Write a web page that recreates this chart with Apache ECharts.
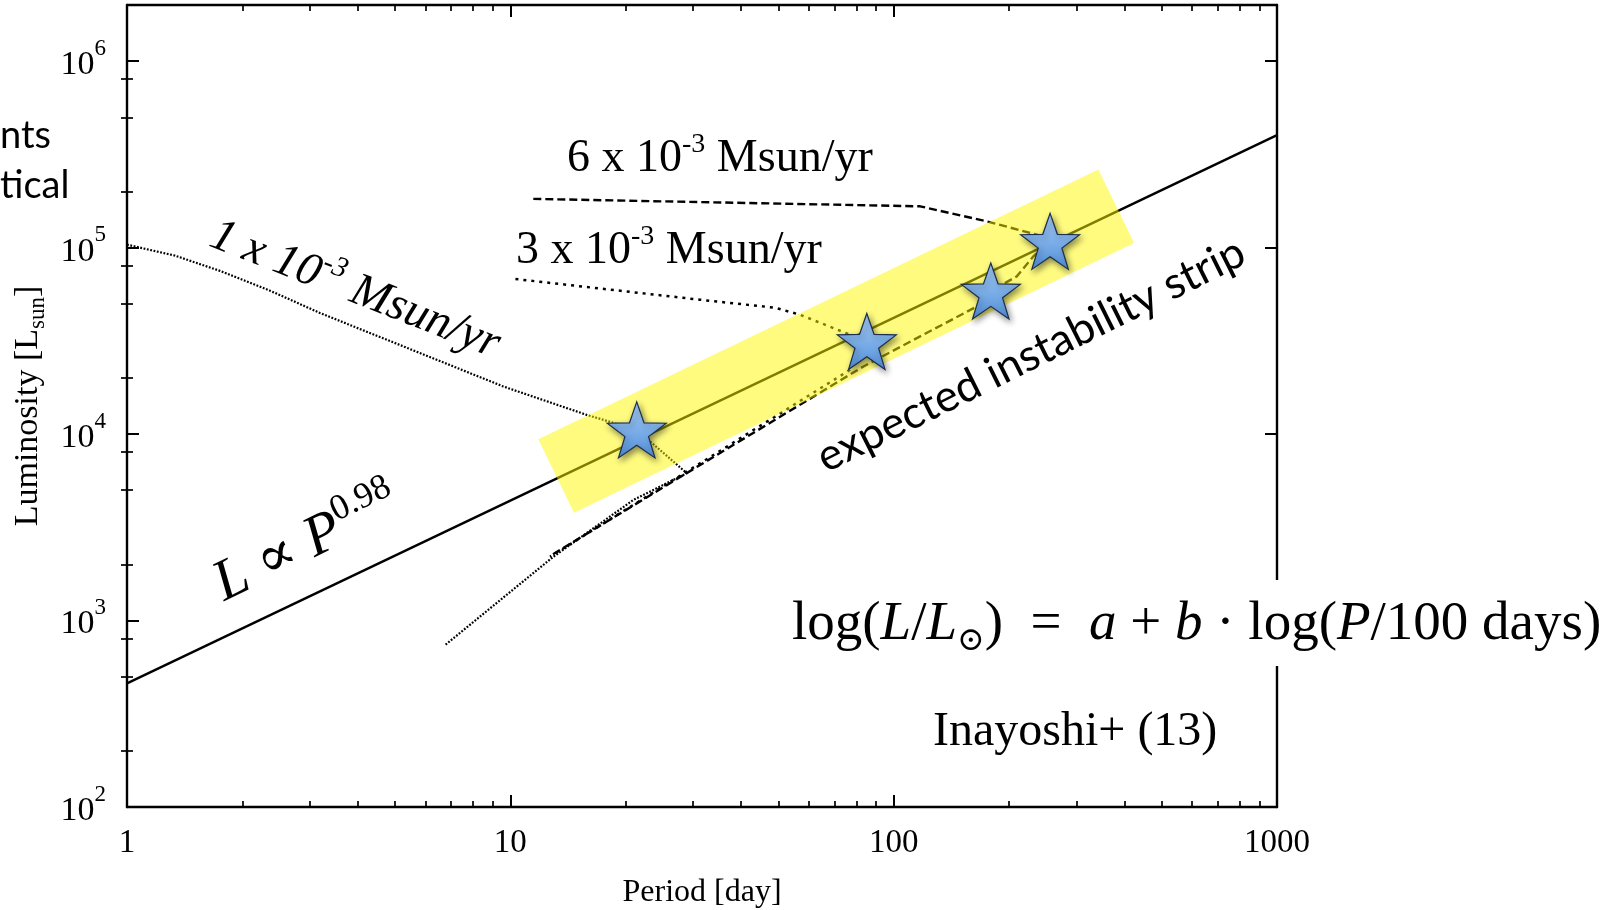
<!DOCTYPE html>
<html>
<head>
<meta charset="utf-8">
<style>
  html, body { margin: 0; padding: 0; background: #ffffff; }
  #chart { width: 1612px; height: 910px; }
</style>
<script src="https://cdn.jsdelivr.net/npm/echarts@6.0.0/dist/echarts.min.js"></script>
</head>
<body>
<div id="chart"></div>
<script>
// ---- data: period P [day] and luminosity L [L_sun] ----

// power-law fit L ∝ P^0.98, given by its two end points
const fitP = [1, 1000];
const fitL = [460, 400700];

// evolutionary track, 1 x 10^-3 Msun/yr
const track1P = [1, 1.334, 1.748, 2.361, 3.187, 5.813, 9.59, 15.82, 21.37, 28.86, 20.94, 12.95, 6.755];
const track1L = [103700, 90530, 75000, 58760, 44600, 27190, 17990, 12680, 10530, 6170, 4433, 2199, 738];

// evolutionary track, 3 x 10^-3 Msun/yr
const track3P = [10.31, 31.26, 49.05, 56.98, 85.1, 76.94, 28.86, 12.69];
const track3L = [67850, 52530, 47600, 43650, 31380, 22110, 6290, 2199];

// evolutionary track, 6 x 10^-3 Msun/yr
const track6P = [11.48, 117.2, 174.9, 236.3, 255.9, 231.0, 209.5, 179.2, 164.8, 83.37, 28.9, 12.69];
const track6L = [182500, 166500, 138300, 117300, 108000, 89400, 70090, 58500, 48370, 23040, 6190, 2218];

// onset of pulsation on each track
const starP = [21.37, 85.1, 179.2, 255.9];
const starL = [10530, 31380, 58500, 108000];

// corners of the expected instability strip
const bandP = [11.83, 342.0, 423.9, 14.66];
const bandL = [9389, 262100, 105900, 3788];

// axis ranges and minor tick values
const xRange = [1, 1000];
const yRange = [100, 2e6];
const xMinorTicks = [2, 3, 4, 5, 6, 7, 8, 9, 20, 30, 40, 50, 60, 70, 80, 90, 200, 300, 400, 500, 600, 700, 800, 900];
const yMinorTicks = [200, 500, 800, 2000, 5000, 8000, 20000, 50000, 80000, 200000, 500000, 800000];

// ---- chart ----
const serif = '"Liberation Serif", "Times New Roman", "DejaVu Serif", serif';
const sans = 'Lato, "Open Sans", sans-serif';
const black = '#000000';
const deg = Math.PI / 180;
const enSp = '\u2002';

const pairs = (xs, ys) => xs.map((x, i) => [x, ys[i]]);

const frameLine = { show: true, onZero: false, lineStyle: { color: black, width: 2.4 } };
const majorTick = { show: true, inside: true, length: 12, lineStyle: { color: black, width: 2 } };
const minorTickStyle = (vals) => ({
  show: true, inside: true, length: 6, customValues: vals,
  lineStyle: { color: black, width: 1.7 }
});

const chart = echarts.init(document.getElementById('chart'), null, { renderer: 'canvas' });

const starPath = 'path://M50,0L61.76,33.82L97.55,34.55L69.02,56.18L79.39,90.45L50,70L20.61,90.45L30.98,56.18L2.45,34.55L38.24,33.82Z';

const trackLine = (xs, ys, width, dash) => ({
  type: 'line',
  xAxisIndex: 0, yAxisIndex: 0,
  data: pairs(xs, ys),
  symbol: 'none',
  silent: true,
  lineStyle: { color: black, width: width, type: dash, cap: 'butt' },
  z: 3
});

chart.setOption({
  animation: false,
  backgroundColor: '#ffffff',
  grid: { left: 127, right: 335, top: 5, bottom: 103, outerBoundsMode: 'none' },
  xAxis: [
    {
      type: 'log', logBase: 10, min: xRange[0], max: xRange[1], position: 'bottom',
      name: 'Period [day]', nameLocation: 'middle', nameGap: 70,
      nameTextStyle: { fontFamily: serif, fontSize: 32, color: black },
      axisLine: frameLine, axisTick: majorTick,
      axisLabel: { margin: 20, fontFamily: serif, fontSize: 33, color: black,
                   formatter: v => String(Math.round(v)) },
      splitLine: { show: false }
    },
    {
      type: 'log', logBase: 10, min: xRange[0], max: xRange[1], position: 'top',
      axisLine: frameLine, axisTick: majorTick, axisLabel: { show: false }, splitLine: { show: false }
    },
    {
      type: 'value', min: Math.log10(xRange[0]), max: Math.log10(xRange[1]), position: 'bottom',
      axisLine: { show: false }, axisTick: minorTickStyle(xMinorTicks.map(Math.log10)),
      axisLabel: { show: false }, splitLine: { show: false }
    },
    {
      type: 'value', min: Math.log10(xRange[0]), max: Math.log10(xRange[1]), position: 'top',
      axisLine: { show: false }, axisTick: minorTickStyle(xMinorTicks.map(Math.log10)),
      axisLabel: { show: false }, splitLine: { show: false }
    }
  ],
  yAxis: [
    {
      type: 'log', logBase: 10, min: yRange[0], max: yRange[1], position: 'left',
      name: '{n|Luminosity [L}{sub|sun}{n|]}', nameLocation: 'middle', nameRotate: 90, nameGap: 76,
      nameTextStyle: {
        rich: {
          n: { fontFamily: serif, fontSize: 34, lineHeight: 44, color: black },
          sub: { fontFamily: serif, fontSize: 23, lineHeight: 23, verticalAlign: 'bottom', color: black }
        }
      },
      axisLine: frameLine, axisTick: majorTick,
      axisLabel: {
        margin: 21, showMaxLabel: false, padding: [8, 0, 0, 0],
        formatter: v => '{b|10}{s|' + Math.round(Math.log10(v)) + '}',
        rich: {
          b: { fontFamily: serif, fontSize: 34, lineHeight: 56, color: black },
          s: { fontFamily: serif, fontSize: 23, lineHeight: 23, verticalAlign: 'top', color: black }
        }
      },
      splitLine: { show: false }
    },
    {
      type: 'log', logBase: 10, min: yRange[0], max: yRange[1], position: 'right',
      axisLine: frameLine, axisTick: majorTick, axisLabel: { show: false }, splitLine: { show: false }
    },
    {
      type: 'value', min: Math.log10(yRange[0]), max: Math.log10(yRange[1]), position: 'left',
      axisLine: { show: false }, axisTick: minorTickStyle(yMinorTicks.map(Math.log10)),
      axisLabel: { show: false }, splitLine: { show: false }
    },
    {
      type: 'value', min: Math.log10(yRange[0]), max: Math.log10(yRange[1]), position: 'right',
      axisLine: { show: false }, axisTick: minorTickStyle(yMinorTicks.map(Math.log10)),
      axisLabel: { show: false }, splitLine: { show: false }
    }
  ],
  series: [
    {
      type: 'line', xAxisIndex: 0, yAxisIndex: 0,
      data: pairs(fitP, fitL), symbol: 'none', silent: true,
      lineStyle: { color: black, width: 2.4 }, z: 3
    },
    trackLine(track1P, track1L, 2.2, [1.8, 1.6]),
    trackLine(track3P, track3L, 2.5, [3, 5]),
    trackLine(track6P, track6L, 2.4, [8, 4]),
    {
      type: 'custom', xAxisIndex: 0, yAxisIndex: 0, silent: true, z: 4,
      data: [[bandP[0], bandL[0]]],
      renderItem: (params, api) => ({
        type: 'polygon',
        shape: { points: bandP.map((p, i) => api.coord([p, bandL[i]])) },
        style: { fill: 'rgba(255, 248, 0, 0.5)' }
      })
    },
    {
      type: 'scatter', xAxisIndex: 0, yAxisIndex: 0, silent: true, z: 6,
      data: pairs(starP, starL),
      symbol: starPath, symbolSize: [59, 56],
      itemStyle: {
        opacity: 1,
        color: { type: 'linear', x: 0, y: 0, x2: 0, y2: 1,
                 colorStops: [{ offset: 0, color: '#a8cef7' }, { offset: 1, color: '#5290da' }] },
        borderColor: '#1c2f4f', borderWidth: 1.2,
        shadowBlur: 6, shadowColor: 'rgba(0,0,0,0.45)', shadowOffsetX: 2, shadowOffsetY: 3
      }
    }
  ],
  graphic: [
    { type: 'text', x: 0, y: 136, z: 60,
      style: { text: 'nts', font: '38px ' + sans, fill: black, align: 'left', verticalAlign: 'middle' } },
    { type: 'text', x: 0, y: 186, z: 60,
      style: { text: 'tical', font: '38px ' + sans, fill: black, align: 'left', verticalAlign: 'middle' } },
    { type: 'text', x: 567, y: 159, z: 60,
      style: {
        text: '{a|6 x 10}{s|-3}{a| Msun/yr}', align: 'left', verticalAlign: 'middle',
        rich: {
          a: { fontFamily: serif, fontSize: 46, lineHeight: 56, fill: black },
          s: { fontFamily: serif, fontSize: 28, lineHeight: 28, verticalAlign: 'top', fill: black }
        }
      } },
    { type: 'text', x: 516, y: 251, z: 60,
      style: {
        text: '{a|3 x 10}{s|-3}{a| Msun/yr}', align: 'left', verticalAlign: 'middle',
        rich: {
          a: { fontFamily: serif, fontSize: 46, lineHeight: 56, fill: black },
          s: { fontFamily: serif, fontSize: 28, lineHeight: 28, verticalAlign: 'top', fill: black }
        }
      } },
    { type: 'text', x: 355, y: 290, rotation: -21.5 * deg, z: 60,
      style: {
        text: '{a|1 x 10}{s|-3}{a| Msun/yr}', align: 'center', verticalAlign: 'middle',
        rich: {
          a: { fontFamily: serif, fontStyle: 'italic', fontSize: 47, lineHeight: 58, fill: black },
          s: { fontFamily: serif, fontStyle: 'italic', fontSize: 29, lineHeight: 29, verticalAlign: 'top', fill: black }
        }
      } },
    { type: 'text', x: 307, y: 544, rotation: 26 * deg, z: 60,
      style: {
        text: '{i|L}{r| ∝ }{i|P}{s|0.98}', align: 'center', verticalAlign: 'middle',
        rich: {
          i: { fontFamily: serif, fontStyle: 'italic', fontSize: 58, lineHeight: 70, fill: black },
          r: { fontFamily: serif, fontSize: 58, lineHeight: 70, fill: black },
          s: { fontFamily: serif, fontSize: 36, lineHeight: 36, verticalAlign: 'top', fill: black }
        }
      } },
    { type: 'text', x: 1031, y: 355, rotation: 26.5 * deg, z: 60,
      style: { text: 'expected instability strip', font: '44px ' + sans, fill: black,
               align: 'center', verticalAlign: 'middle' } },
    { type: 'rect', z: 50, shape: { x: 785, y: 580, width: 827, height: 86 }, style: { fill: '#ffffff' } },
    { type: 'text', x: 792, y: 625, z: 60,
      style: {
        text: '{r|log(}{i|L}{r|/}{i|L}{o|⊙}{r|)' + enSp + '=' + enSp + '}{i|a}{r| + }{i|b}{r| · log(}{i|P}{r|/100 days)}',
        align: 'left', verticalAlign: 'middle',
        rich: {
          r: { fontFamily: serif, fontSize: 55, lineHeight: 66, fill: black },
          i: { fontFamily: serif, fontStyle: 'italic', fontSize: 55, lineHeight: 66, fill: black },
          o: { fontFamily: serif, fontSize: 33, lineHeight: 33, verticalAlign: 'bottom', fill: black }
        }
      } },
    { type: 'text', x: 933, y: 732, z: 60,
      style: { text: 'Inayoshi+ (13)', font: '48px ' + serif, fill: black, align: 'left', verticalAlign: 'middle' } }
  ]
});
</script>
</body>
</html>
